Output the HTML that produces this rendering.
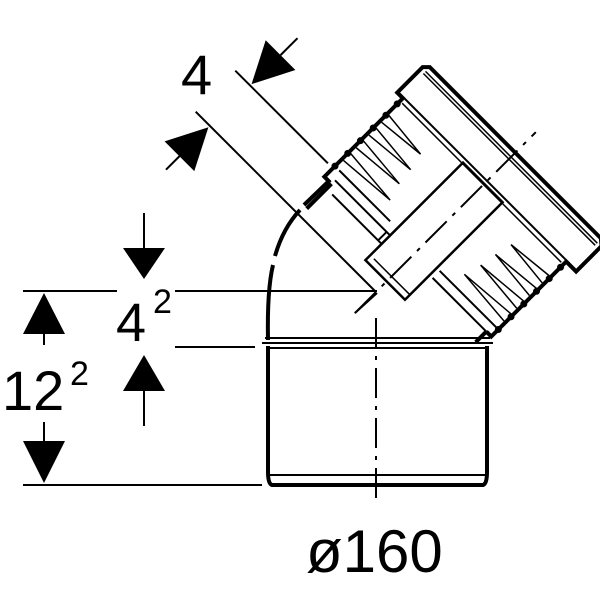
<!DOCTYPE html>
<html><head><meta charset="utf-8"><style>
html,body{margin:0;padding:0;background:#fff;}
svg{display:block;}
text{font-family:"Liberation Sans",Arial,sans-serif;fill:#000;}
</style></head><body>
<svg width="600" height="600" viewBox="0 0 600 600" xmlns="http://www.w3.org/2000/svg">
<g stroke="#000" fill="none">
  <line x1="23" y1="291" x2="117" y2="291" stroke-width="2"/>
  <line x1="175" y1="291" x2="377" y2="291" stroke-width="2"/>
  <line x1="175" y1="347" x2="255" y2="347" stroke-width="2"/>
  <line x1="23" y1="485" x2="262" y2="485" stroke-width="2"/>
  <line x1="44" y1="320" x2="44" y2="345" stroke-width="2"/>
  <line x1="44" y1="422" x2="44" y2="450" stroke-width="2"/>
  <line x1="144" y1="213" x2="144" y2="255" stroke-width="2"/>
  <line x1="144" y1="380" x2="144" y2="426" stroke-width="2"/>
  <path d="M268 346 L268 472 Q268 484 272 485 L483 485 Q487 484 487 472 L487 346" stroke-width="4"/>
  <line x1="268" y1="475" x2="487" y2="475" stroke-width="2"/>
  <path d="M265 338 L490 338 M262 343 L493 343 M266 348 L489 348" stroke-width="2"/>
  <path d="M268 340 Q267 290 273 265" stroke-width="4"/>
  <path d="M275 256 Q283 228 300 210" stroke-width="4"/>
  <path d="M304 205 L330 180" stroke-width="4"/>
  <line x1="376" y1="318" x2="376" y2="500" stroke-width="2" stroke-dasharray="30,8,4,8"/>
  <line x1="355" y1="313" x2="377" y2="293" stroke-width="2"/>
</g>
<g fill="#000">
  <polygon points="44,293 23,334 65,334"/>
  <polygon points="44,483 23,441 65,441"/>
  <polygon points="144,279 123,248 165,248"/>
  <polygon points="144,355 123,391 165,391"/>
</g>
<g transform="translate(376,292) rotate(-45)" stroke="#000" fill="none">
  <line x1="0" y1="-255" x2="0" y2="0" stroke-width="2"/>
  <line x1="57" y1="-256" x2="57" y2="-125" stroke-width="2"/>
  <line x1="100" y1="-235" x2="124" y2="-235" stroke-width="2"/>
  <line x1="-40" y1="-235" x2="-62" y2="-235" stroke-width="2"/>
  <polygon points="59,-235 100,-256 100,-214" fill="#000" stroke="none"/>
  <polygon points="-2,-235 -43,-256 -43,-214" fill="#000" stroke="none"/>
  <line x1="-30" y1="0" x2="226" y2="0" stroke-width="2" stroke-dasharray="30,8,4,8"/>
  <line x1="10" y1="-108" x2="45" y2="-108" stroke-width="4"/>
  <line x1="35" y1="106" x2="50" y2="106" stroke-width="4"/>
  <path d="M45 -110 L45 -118 L156 -118 L156 -126 L192 -126 L197 -121 L197 121 L192 127 L156 127 L156 113 L50 113 L50 106" stroke-width="4"/>
  <line x1="157" y1="-126" x2="157" y2="127" stroke-width="2"/>
  <line x1="188" y1="-121" x2="188" y2="122" stroke-width="1.5"/>
  <line x1="191" y1="-121" x2="191" y2="122" stroke-width="1.5"/>
  <line x1="152" y1="-115" x2="152" y2="110" stroke-width="1.5"/>
  <line x1="50" y1="-108" x2="50" y2="-30" stroke-width="2"/>
  <line x1="60" y1="-112" x2="60" y2="-40" stroke-width="2"/>
  <line x1="38" y1="-100" x2="38" y2="-30" stroke-width="2"/>
  <line x1="38" y1="-35" x2="50" y2="-35" stroke-width="2"/>
  <line x1="50" y1="30" x2="50" y2="106" stroke-width="2"/>
  <line x1="60" y1="30" x2="60" y2="110" stroke-width="2"/>
  <g fill="#000" stroke="none">
    <circle cx="60" cy="-118" r="3.5"/><circle cx="78" cy="-118" r="3.5"/><circle cx="96" cy="-118" r="3.5"/>
    <circle cx="114" cy="-118" r="3.5"/><circle cx="132" cy="-118" r="3.5"/><circle cx="148" cy="-118" r="3.5"/>
    <circle cx="60" cy="113" r="3.5"/><circle cx="78" cy="113" r="3.5"/><circle cx="96" cy="113" r="3.5"/>
    <circle cx="114" cy="113" r="3.5"/><circle cx="132" cy="113" r="3.5"/><circle cx="148" cy="113" r="3.5"/>
  </g>
  <g stroke-width="1.5">
    <path d="M70 -116 L75 -55 L80 -116"/><path d="M88 -116 L93 -60 L98 -116"/>
    <path d="M106 -116 L111 -62 L116 -116"/><path d="M124 -116 L129 -66 L134 -116"/>
    <path d="M70 111 L75 50 L80 111"/><path d="M88 111 L93 55 L98 111"/>
    <path d="M106 111 L111 58 L116 111"/><path d="M124 111 L129 62 L134 111"/>
  </g>
  <rect x="15" y="-30" width="138" height="56" stroke-width="2.5"/>
  <line x1="22" y1="-25" x2="22" y2="26" stroke-width="1.5"/>
</g>
<text x="181" y="94" font-size="56">4</text>
<text x="116" y="341" font-size="54">4</text>
<text x="153" y="313" font-size="34">2</text>
<text x="2" y="410" font-size="56">12</text>
<text x="70" y="385" font-size="34">2</text>
<text x="306" y="572" font-size="60">ø160</text>
</svg>
</body></html>
